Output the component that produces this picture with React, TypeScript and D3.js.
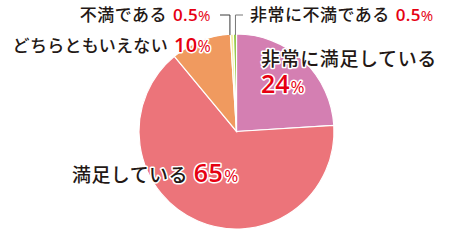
import React from "react";
import * as d3 from "d3";

const labels = ["非常に満足している", "満足している", "どちらともいえない", "不満である", "非常に不満である"];
const values = [24, 65, 10, 0.5, 0.5];
const valueText = ["24", "65", "10", "0.5", "0.5"];
const colors = ["#d47fb2", "#ec747a", "#f09a5f", "#f4eea0", "#8cc43c"];

const W = 460, H = 240;
const cx = 236.5, cy = 131.5, R = 97.5;
const FONT = "'Noto Sans CJK JP', 'Noto Sans', sans-serif";
const NUMFONT = "'Open Sans', 'Noto Sans', sans-serif";
const INK = "#231815";
const RED = "#e60012";

export default function App() {
  const pie = d3.pie<number>().sort(null).value((d) => d)(values);
  const arc = d3.arc<d3.PieArcDatum<number>>().innerRadius(0).outerRadius(R);
  const topPt = (i: number) => {
    const a = (pie[i].startAngle + pie[i].endAngle) / 2;
    return [cx + R * Math.sin(a), cy - R * Math.cos(a)];
  };
  const y3 = topPt(3), y4 = topPt(4);
  const halo = { stroke: "#fff", strokeWidth: 3, paintOrder: "stroke" as const, strokeLinejoin: "round" as const };
  return (
    <svg width={W} height={H} style={{ position: "absolute", left: 0, top: 0 }} fontFamily={FONT} fontWeight={500}>
      <g transform={`translate(${cx},${cy})`}>
        {pie.map((p, i) => (
          <path key={i} d={arc(p) || ""} fill={colors[i]} stroke="#fff" strokeWidth={1.2} />
        ))}
      </g>
      {/* leader lines */}
      <path d={`M${y3[0] - 2},${y3[1] + 1}V15H220`} fill="none" stroke="#3a3a3a" strokeWidth={1} />
      <path d={`M${y4[0] + 0.5},${y4[1] + 1}V15H243`} fill="none" stroke="#777" strokeWidth={1} />

      {/* 不満である */}
      <text x={211} y={21} textAnchor="end" fontSize={17} fill={INK} letterSpacing={0.5}>
        {labels[3]}
        <tspan dx={6} fill={RED} fontFamily={NUMFONT} fontWeight={600} fontSize={17} letterSpacing={0.3}>{valueText[3]}</tspan>
        <tspan fill={RED} fontFamily={NUMFONT} fontSize={15}>%</tspan>
      </text>
      {/* どちらともいえない */}
      <text x={211} y={52} textAnchor="end" fontSize={17} fill={INK} letterSpacing={0.3} {...halo}>
        {labels[2]}
        <tspan dx={6} fill={RED} fontFamily={NUMFONT} fontWeight={600} fontSize={20}>{valueText[2]}</tspan>
        <tspan fill={RED} fontFamily={NUMFONT} fontSize={16}>%</tspan>
      </text>
      {/* 非常に不満である */}
      <text x={250} y={21} fontSize={17} fill={INK} letterSpacing={0.5}>
        {labels[4]}
        <tspan dx={6} fill={RED} fontFamily={NUMFONT} fontWeight={600} fontSize={17} letterSpacing={0.3}>{valueText[4]}</tspan>
        <tspan fill={RED} fontFamily={NUMFONT} fontSize={15}>%</tspan>
      </text>
      {/* 非常に満足している */}
      <text x={261} y={66} fontSize={19} fill={INK} letterSpacing={0.6} {...halo}>{labels[0]}</text>
      <text x={261} y={93} fill={RED} fontFamily={NUMFONT} {...halo}>
        <tspan fontSize={25} fontWeight={600}>{valueText[0]}</tspan>
        <tspan fontSize={17} dx={1}>%</tspan>
      </text>
      {/* 満足している */}
      <text x={72} y={182} fontSize={19} fill={INK} letterSpacing={0.4} {...halo}>
        {labels[1]}
        <tspan dx={6} fill={RED} fontFamily={NUMFONT} fontSize={25} fontWeight={600}>{valueText[1]}</tspan>
        <tspan fill={RED} fontFamily={NUMFONT} fontSize={17} dx={1}>%</tspan>
      </text>
    </svg>
  );
}
